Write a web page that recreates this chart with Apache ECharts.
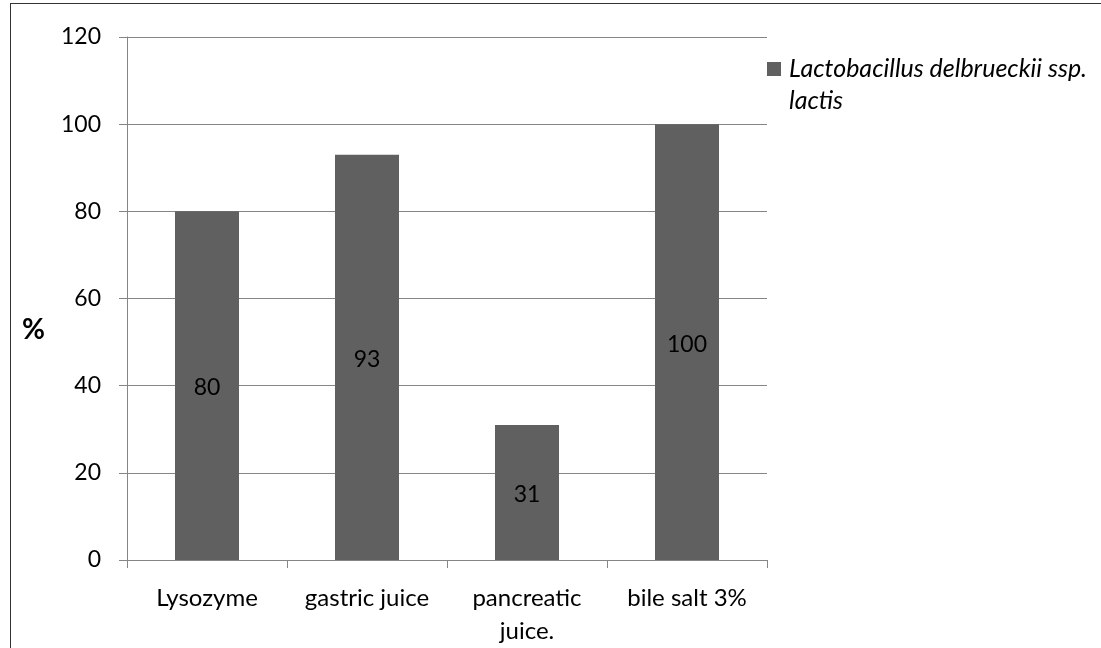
<!DOCTYPE html>
<html>
<head>
<meta charset="utf-8">
<script src="https://cdn.jsdelivr.net/npm/echarts@6/dist/echarts.min.js"></script>
<style>
  html, body { margin: 0; padding: 0; background: #fff; }
  #frame {
    position: absolute; left: 10px; top: 3px; width: 1100px; height: 660px;
    border: 1.5px solid #333; box-sizing: border-box;
  }
  #chart { position: absolute; left: 0; top: 0; width: 1101px; height: 648px; }
</style>
</head>
<body>
<div id="frame"></div>
<div id="chart"></div>
<script>
const categories = ['Lysozyme', 'gastric juice', 'pancreatic\njuice.', 'bile salt 3%']
const seriesName = 'Lactobacillus delbrueckii ssp. lactis'
const values = [80, 93, 31, 100]
const yTicks = { min: 0, max: 120, interval: 20 }

const font = 'Lato, "Open Sans", sans-serif'
const chart = echarts.init(document.getElementById('chart'))

chart.setOption({
  animation: false,
  grid: { left: 127, right: 334, top: 37, bottom: 88 },
  legend: {
    left: 762,
    top: 16,
    orient: 'vertical',
    icon: 'rect',
    itemWidth: 14,
    itemHeight: 14,
    // leading blank line keeps the square level with the first text line
    formatter: () => '\nLactobacillus delbrueckii ssp.\nlactis',
    textStyle: {
      fontFamily: font, fontStyle: 'italic', fontSize: 25, color: '#000',
      lineHeight: 32, padding: [0, 0, 0, 3]
    }
  },
  graphic: [{
    type: 'text',
    left: 22, top: 316,
    style: { text: '%', font: 'bold 28px ' + font, fill: '#000' }
  }],
  xAxis: {
    type: 'category',
    data: categories,
    axisLine: { lineStyle: { color: '#868686', width: 1 } },
    axisTick: { show: true, length: 8, lineStyle: { color: '#868686' } },
    axisLabel: {
      color: '#000', fontFamily: font, fontSize: 24, margin: 22, lineHeight: 33, interval: 0
    }
  },
  yAxis: {
    type: 'value',
    min: yTicks.min,
    max: yTicks.max,
    interval: yTicks.interval,
    axisLine: { show: true, lineStyle: { color: '#868686', width: 1 } },
    axisTick: { show: true, length: 8, lineStyle: { color: '#868686' } },
    axisLabel: { color: '#000', fontFamily: font, fontSize: 23, margin: 26 },
    splitLine: { lineStyle: { color: '#868686', width: 1 } }
  },
  series: [{
    name: seriesName,
    type: 'bar',
    data: values,
    barWidth: '40%',
    itemStyle: { color: '#606060' },
    label: {
      show: true,
      position: 'inside',
      offset: [0, 2],
      color: '#000',
      fontFamily: font,
      fontSize: 23
    }
  }]
})
</script>
</body>
</html>
